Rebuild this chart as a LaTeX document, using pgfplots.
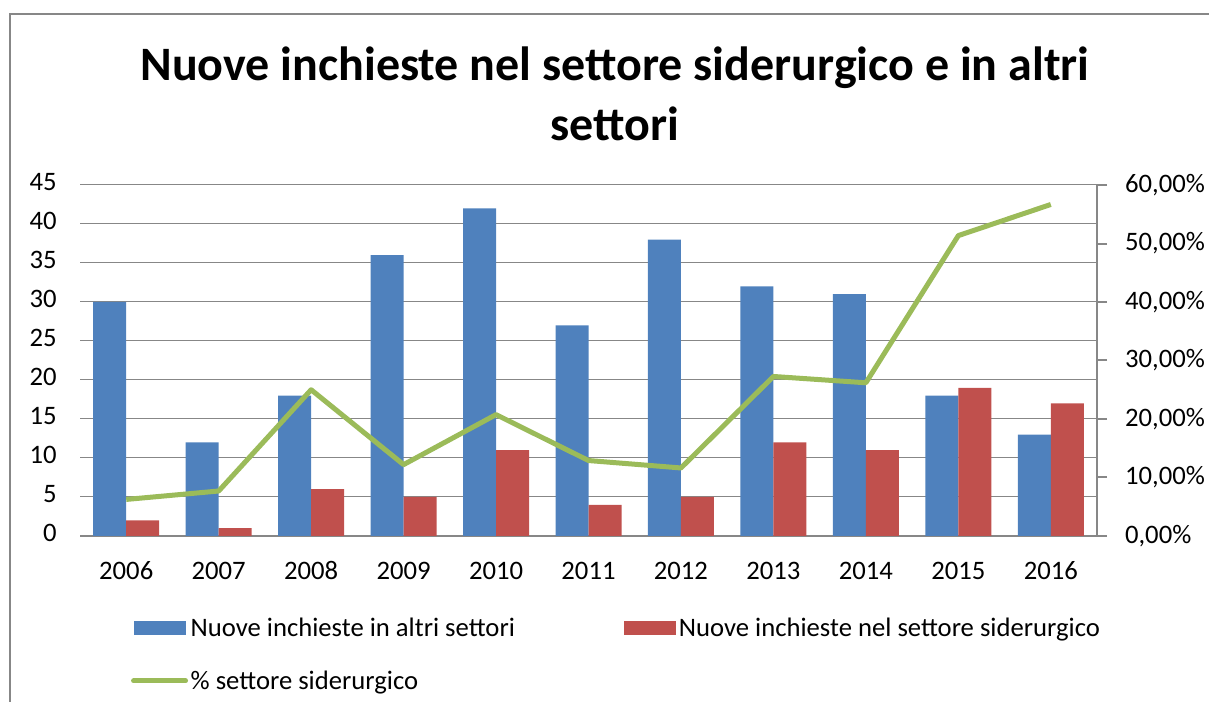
\documentclass[border=0pt]{standalone}
\usepackage{fontspec}
\setmainfont{Carlito}
\usepackage{pgfplots}
\pgfplotsset{compat=1.18}
\definecolor{cblue}{HTML}{4F81BD}
\definecolor{cred}{HTML}{C0504D}
\definecolor{cgreen}{HTML}{9BBB59}
\definecolor{cgrid}{HTML}{878787}
\pgfplotsset{
  barleg/.style={legend image code/.code={\fill[##1,draw=none] (0pt,-5.25pt) rectangle (39pt,5.25pt);}},
  lineleg/.style={legend image code/.code={\draw[##1,line cap=round] (0pt,0pt) -- (39pt,0pt);}},
}
\begin{document}
\begin{tikzpicture}[x=0.75pt,y=0.75pt]
\path[use as bounding box] (0,0) rectangle (1209,702);
\draw[cgrid, line width=1.5pt] (10,0) -- (10,688) -- (1209,688);
\node[anchor=base, font=\fontsize{36}{42}\selectfont\bfseries, inner sep=0pt] at (615,621) {Nuove inchieste nel settore siderurgico e in altri};
\node[anchor=base, font=\fontsize{36}{42}\selectfont\bfseries, inner sep=0pt] at (615,561) {settori};

\begin{axis}[
  at={(60pt,124.5pt)}, anchor=south west, scale only axis,
  width=762.75pt, height=263.25pt,
  xmin=-0.5, xmax=10.5, ymin=0, ymax=45,
  ybar=0pt, bar width=24.75pt,
  xtick={0,...,10},
  xticklabels={2006,2007,2008,2009,2010,2011,2012,2013,2014,2015,2016},
  ytick={0,5,...,45},
  ymajorgrids, grid style={cgrid, line width=0.75pt},
  axis x line*=bottom, axis y line*=left,
  x axis line style={cgrid, line width=1.5pt, -},
  y axis line style={draw=none},
  major tick length=0pt,
  typeset ticklabels with strut,
  tick label style={font=\fontsize{20}{22}\selectfont},
  /pgf/number format/assume math mode=true,
  yticklabel style={xshift=-14pt},
  xticklabel style={yshift=-14pt},
  legend columns=2, legend cell align=left,
  legend style={draw=none, fill=none, at={(0.046,-0.218)}, anchor=north west,
    font=\fontsize{20}{22}\selectfont, row sep=20pt,
    /tikz/every even column/.append style={column sep=80pt}},
]
\addplot[fill=cblue, draw=none, barleg] coordinates {(0,30) (1,12) (2,18) (3,36) (4,42) (5,27) (6,38) (7,32) (8,31) (9,18) (10,13)};
\addlegendentry{Nuove inchieste in altri settori}
\addplot[fill=cred, draw=none, barleg] coordinates {(0,2) (1,1) (2,6) (3,5) (4,11) (5,4) (6,5) (7,12) (8,11) (9,19) (10,17)};
\addlegendentry{Nuove inchieste nel settore siderurgico}
\addlegendimage{cgreen, line width=3.75pt, lineleg}
\addlegendentry{\% settore siderurgico}
\end{axis}

\begin{axis}[
  at={(60pt,124.5pt)}, anchor=south west, scale only axis,
  width=762.75pt, height=263.25pt,
  xmin=-0.5, xmax=10.5, ymin=0, ymax=0.6,
  axis x line=none, axis y line*=right,
  y axis line style={cgrid, line width=1.5pt, -},
  ytick={0,0.1,0.2,0.3,0.4,0.5,0.6},
  yticklabels={{0,00\%},{10,00\%},{20,00\%},{30,00\%},{40,00\%},{50,00\%},{60,00\%}},
  tick align=outside, major tick length=7.5pt,
  tick style={cgrid, line width=1.5pt},
  tick label style={font=\fontsize{20}{22}\selectfont},
  yticklabel style={xshift=10pt},
]
\addplot[cgreen, line width=3.75pt, mark=none, line join=round] coordinates {(0,0.0625) (1,0.0769) (2,0.25) (3,0.122) (4,0.2075) (5,0.129) (6,0.1163) (7,0.2727) (8,0.2619) (9,0.5135) (10,0.5667)};
\end{axis}
\end{tikzpicture}
\end{document}
